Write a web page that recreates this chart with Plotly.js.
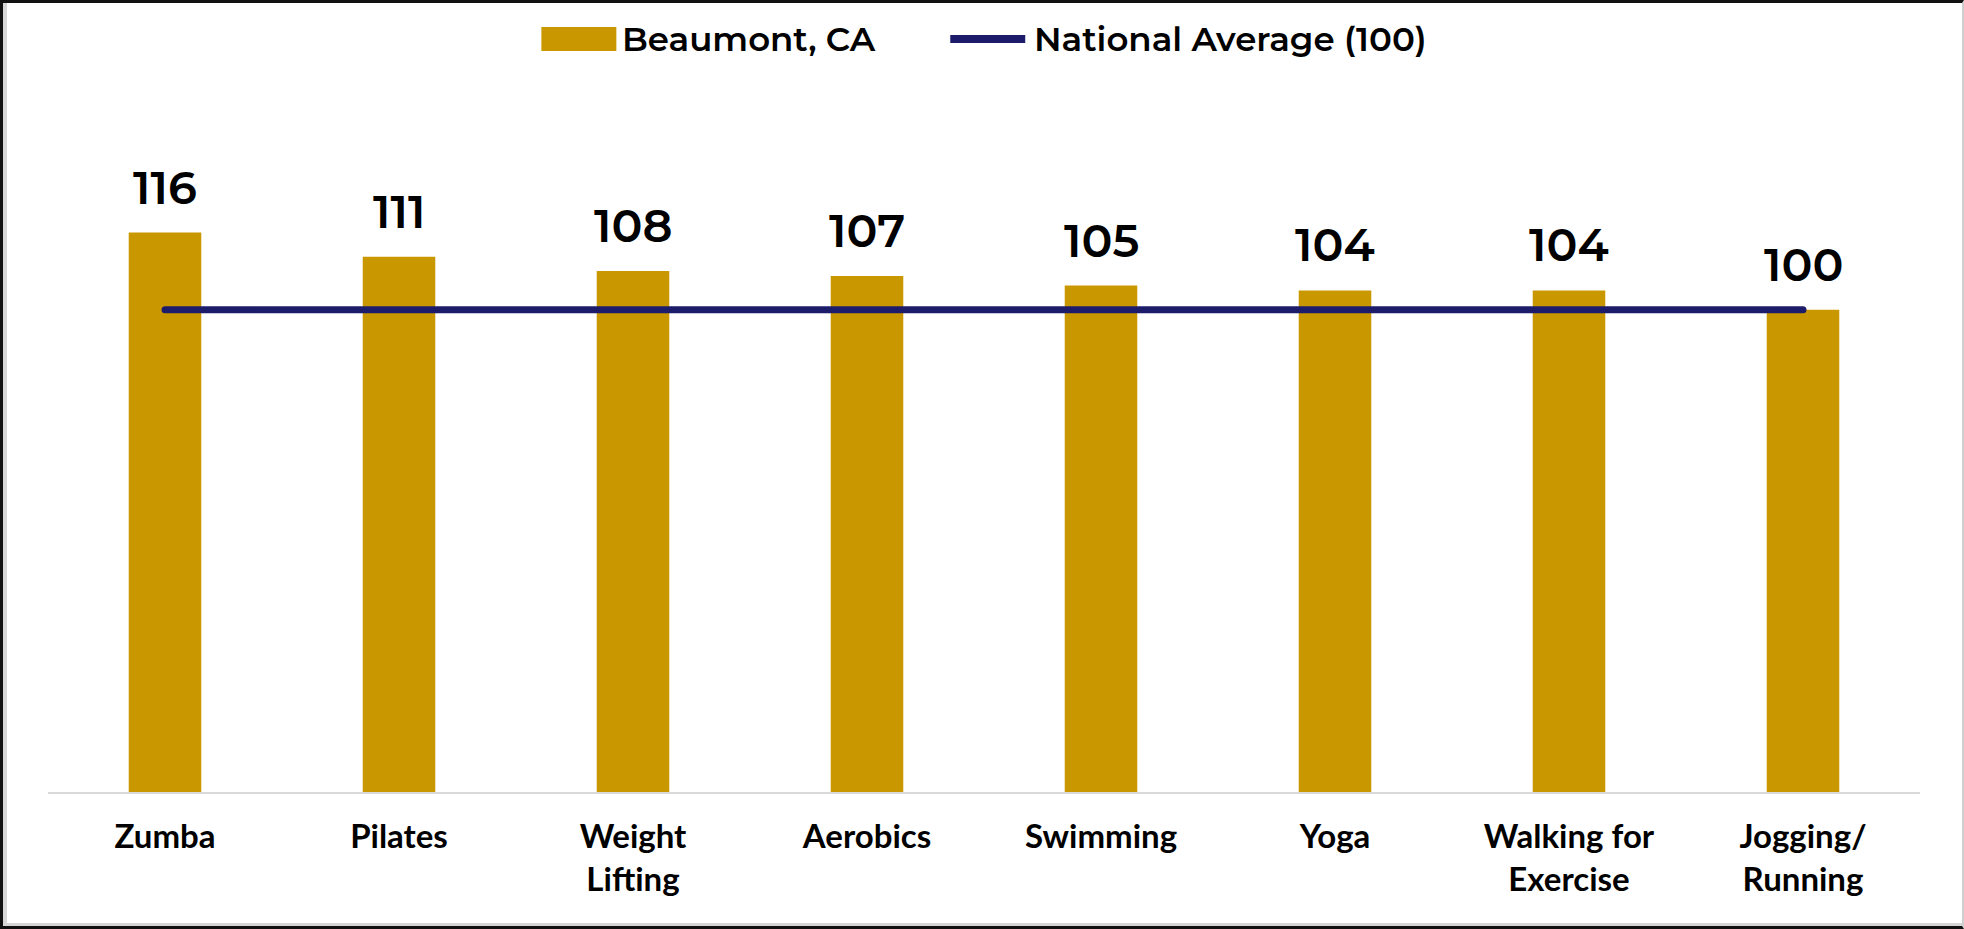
<!DOCTYPE html>
<html>
<head>
<meta charset="utf-8">
<script src="https://cdn.plot.ly/plotly-3.0.1.min.js"></script>
<style>
    html, body { margin: 0; padding: 0; background: #fff; }
    #wrap { position: relative; width: 1964px; height: 929px; }
    #chart { width: 1964px; height: 929px; }
    #frame {
        position: absolute; left: 0; top: 0; width: 1964px; height: 929px;
        box-sizing: border-box; pointer-events: none;
        border-top: 3px solid #111; border-left: 3px solid #111;
        border-bottom: 3px solid #111; border-right: 2px solid #cfcfcf;
        box-shadow: inset 4px -3px 0 #d6d6d6;
    }
    .scatterlayer .js-line { stroke-linecap: round; }
</style>
</head>
<body>
<div id="wrap">
    <div id="chart"></div>
    <div id="frame"></div>
</div>
<script>
// Chart data
const categories = ['Zumba', 'Pilates', 'Weight<br>Lifting', 'Aerobics', 'Swimming', 'Yoga', 'Walking for<br>Exercise', 'Jogging/<br>Running'];
const beaumontValues = [116, 111, 108, 107, 105, 104, 104, 100];
const nationalAverage = [100, 100, 100, 100, 100, 100, 100, 100];
const seriesNames = ['Beaumont, CA', 'National Average (100)'];

const barColor = '#C99700';
const lineColor = '#1C1C6B';

// plot area in pixels (used to place the hand-drawn legend)
const W = 1964, H = 929;
const margin = { l: 47.5, r: 44, t: 165, b: 137 };
const plotW = W - margin.l - margin.r;
const plotH = H - margin.t - margin.b;
const px = x => (x - margin.l) / plotW;
const py = y => (H - margin.b - y) / plotH;

const traces = [
    {
        x: categories,
        y: beaumontValues,
        name: seriesNames[0],
        type: 'bar',
        marker: { color: barColor },
        hoverinfo: 'skip'
    },
    {
        x: categories,
        y: nationalAverage,
        name: seriesNames[1],
        type: 'scatter',
        mode: 'lines',
        line: { color: lineColor, width: 7 },
        hoverinfo: 'skip'
    }
];

// value labels above the bars
const labelFont = { family: 'Montserrat, Inter, sans-serif', size: 46, color: '#000', weight: 600 };
const annotations = categories.map((c, i) => ({
    x: c,
    y: beaumontValues[i],
    xref: 'x',
    yref: 'y',
    text: String(beaumontValues[i]),
    showarrow: false,
    yanchor: 'bottom',
    yshift: 15,
    font: labelFont
}));

// legend, drawn by hand so the swatches can be wide
const legendFont = { family: 'Montserrat, Inter, sans-serif', size: 34, color: '#000', weight: 600 };
annotations.push(
    { xref: 'paper', yref: 'paper', x: px(620), y: py(39), xanchor: 'left', yanchor: 'middle',
      text: seriesNames[0], showarrow: false, font: legendFont },
    { xref: 'paper', yref: 'paper', x: px(1032), y: py(39), xanchor: 'left', yanchor: 'middle',
      text: seriesNames[1], showarrow: false, font: legendFont }
);
const shapes = [
    { type: 'rect', xref: 'paper', yref: 'paper', x0: px(541), x1: px(616), y0: py(51), y1: py(27),
      fillcolor: barColor, line: { width: 0 } },
    { type: 'path', xref: 'paper', yref: 'paper',
      path: `M ${px(950)} ${py(39)} L ${px(1025)} ${py(39)}`,
      line: { color: lineColor, width: 8 } }
];

const layout = {
    width: W,
    height: H,
    paper_bgcolor: '#fff',
    plot_bgcolor: '#fff',
    margin: margin,
    showlegend: false,
    bargap: 0.69,
    xaxis: {
        type: 'category',
        showline: true,
        linecolor: '#D9D9D9',
        linewidth: 2,
        showgrid: false,
        ticks: '',
        ticklabelstandoff: 14,
        tickfont: { family: 'Lato, sans-serif', size: 33, color: '#000', weight: 700 },
        fixedrange: true
    },
    yaxis: {
        range: [0, 130],
        visible: false,
        showgrid: false,
        zeroline: false,
        fixedrange: true
    },
    annotations: annotations,
    shapes: shapes
};

Plotly.newPlot('chart', traces, layout, { displayModeBar: false, responsive: false });
</script>
</body>
</html>
